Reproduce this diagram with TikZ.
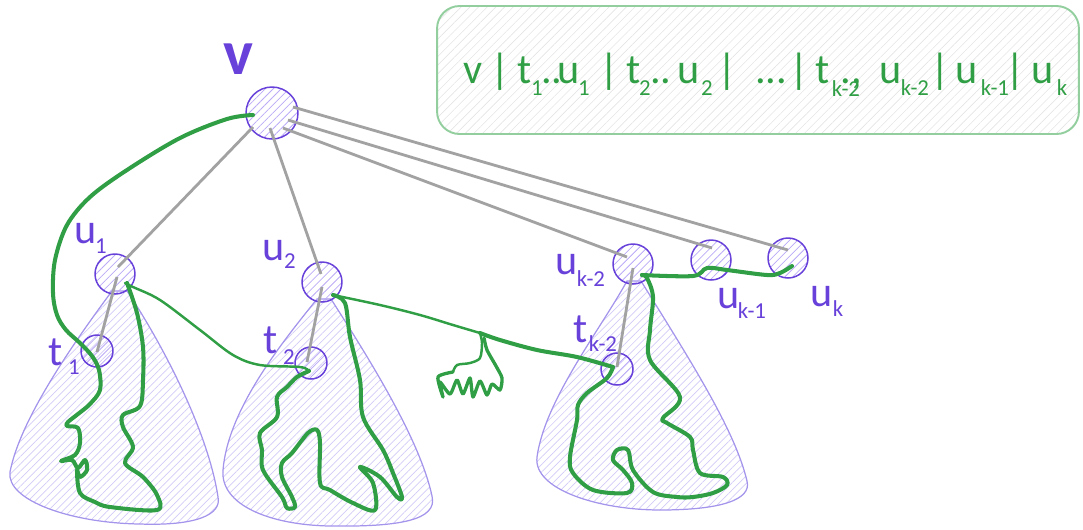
\documentclass[tikz,border=0pt]{standalone}
\usepackage{fontspec}
\setmainfont{Carlito}
\usetikzlibrary{patterns.meta}

\definecolor{vio}{HTML}{6741D9}
\definecolor{vhatch}{HTML}{BBAAF6}
\definecolor{conev}{HTML}{A494EB}
\definecolor{conehatch}{HTML}{D3CAF7}
\definecolor{grn}{HTML}{2F9E44}
\definecolor{edgegray}{HTML}{A2A2A2}
\definecolor{boxgreen}{HTML}{93CF9E}
\definecolor{boxhatch}{HTML}{E4E4E4}

\tikzset{
  vert/.style={circle, draw=vio, line width=0.85pt, inner sep=0pt,
    pattern={Lines[angle=45,distance=3.2pt,line width=0.45pt]}, pattern color=vhatch},
  rootv/.style={vert, minimum size=1.04cm},
  midv/.style={vert, minimum size=0.8cm},
  leafv/.style={vert, minimum size=0.64cm},
  cone/.style={draw=conev, line width=0.7pt,
    pattern={Lines[angle=45,distance=3pt,line width=0.4pt]}, pattern color=conehatch},
  edge/.style={draw=edgegray, line width=1.6pt},
  walk/.style={draw=grn, line width=2.3pt, line cap=round, line join=round},
  thinwalk/.style={walk, line width=1.4pt},
  lbl/.style={text=vio, font=\fontsize{24}{24}\selectfont, inner sep=0pt},
  sublbl/.style={text=vio, font=\fontsize{13}{13}\selectfont, inner sep=0pt},
  seqbox/.style={draw=boxgreen, line width=1.1pt, rounded corners=0.45cm,
    pattern={Lines[angle=45,distance=3.5pt,line width=0.35pt]}, pattern color=boxhatch},
  seqmain/.style={text=grn, font=\fontsize{24}{24}\selectfont, inner sep=0pt, anchor=base},
  seqsub/.style={text=grn, font=\fontsize{13}{13}\selectfont, inner sep=0pt, anchor=base},
}

\begin{document}
\begin{tikzpicture}[x=0.02cm, y=-0.02cm]
\useasboundingbox (0,0) rectangle (1083,529);

% sequence box: v | t1..u1 | t2..u2 | ... | t(k-2).. u(k-2) | u(k-1) | uk
\node[seqbox, minimum width=12.84cm, minimum height=2.56cm] (box) at (758,70) {};
\node[seqmain] (s01) at (473,83) {v};
\node[seqmain] (s02) at (500,83) {|};
\node[seqmain] (s03) at (525,83) {t};
\node[seqsub]  (s04) at (537,95) {1};
\node[seqmain] (s05) at (552,83) {..};
\node[seqmain] (s06) at (569,83) {u};
\node[seqsub]  (s07) at (584,95) {1};
\node[seqmain] (s08) at (609,83) {|};
\node[seqmain] (s09) at (634,83) {t};
\node[seqsub]  (s10) at (645,95) {2};
\node[seqmain] (s11) at (661,83) {..};
\node[seqmain] (s12) at (689,83) {u};
\node[seqsub]  (s13) at (707,95) {2};
\node[seqmain] (s14) at (727,83) {|};
\node[seqmain] (s15) at (771,83) {...};
\node[seqmain] (s16) at (799,83) {|};
\node[seqmain] (s17) at (823,83) {t};
\node[seqsub]  (s18) at (846,96) {k-2};
\node[seqmain] (s19) at (851,83) {.,};
\node[seqmain] (s20) at (891,83) {u};
\node[seqsub]  (s21) at (915,95) {k-2};
\node[seqmain] (s22) at (940,83) {|};
\node[seqmain] (s23) at (967,83) {u};
\node[seqsub]  (s24) at (995,95) {k-1};
\node[seqmain] (s25) at (1015,83) {|};
\node[seqmain] (s26) at (1043,83) {u};
\node[seqsub]  (s27) at (1062,95) {k};

% subtrees
\path[cone] (112,291) .. controls (72,345) and (20,420) .. (10,472)
  .. controls (6,500) and (70,523) .. (140,524)
  .. controls (195,526) and (222,515) .. (218,497)
  .. controls (208,430) and (160,340) .. (127,291) -- cycle;
\path[cone] (317,299) .. controls (280,345) and (228,410) .. (223,470)
  .. controls (220,505) and (270,525) .. (330,526)
  .. controls (400,527) and (438,520) .. (432,496)
  .. controls (420,440) and (370,360) .. (331,299) -- cycle;
\path[cone] (627,281) .. controls (600,330) and (545,400) .. (537,457)
  .. controls (533,490) and (600,510) .. (660,510)
  .. controls (720,510) and (752,500) .. (747,481)
  .. controls (735,430) and (690,360) .. (641,281) -- cycle;

% vertices
\node[rootv] (v) at (272,113) {};
\node[midv] (u1) at (115,274) {};
\node[leafv] (t1) at (97,351) {};
\node[midv] (u2) at (322,282) {};
\node[leafv] (t2) at (311,363) {};
\node[midv] (uk2) at (633,264) {};
\node[leafv] (tk2) at (617,369) {};
\node[midv] (uk1) at (711,260) {};
\node[midv] (uk) at (788,258) {};

% tree edges
\draw[edge] ([shift={(-19,14)}]v.center) -- ([shift={(3,-7)}]u1.center);
\draw[edge] ([shift={(-2,15)}]v.center) -- ([shift={(-1,-8)}]u2.center);
\draw[edge] ([shift={(11,15)}]v.center) -- ([shift={(-6,-7)}]uk2.center);
\draw[edge] ([shift={(16,7)}]v.center) -- ([shift={(1,-12)}]uk1.center);
\draw[edge] ([shift={(21,-6)}]v.center) -- ([shift={(0,-8)}]uk.center);
\draw[edge] ([shift={(2,3)}]u1.center) -- ([shift={(0,1)}]t1.center);
\draw[edge] ([shift={(0,5)}]u2.center) -- ([shift={(-4,-1)}]t2.center);
\draw[edge] ([shift={(0,4)}]uk2.center) -- ([shift={(0,-2)}]tk2.center);

% labels
\node[text=vio, font=\bfseries\fontsize{36}{36}\selectfont, inner sep=0pt] (lv) at (238,59) {v};
\node[lbl] (lu1) at (86,234) {u};      \node[sublbl] (su1) at (101,246) {1};
\node[lbl] (lt1) at (56,352) {t};      \node[sublbl] (st1) at (74,367) {1};
\node[lbl] (lu2) at (274,251) {u};     \node[sublbl] (su2) at (290,261) {2};
\node[lbl] (lt2) at (271,340) {t};     \node[sublbl] (st2) at (289,357) {2};
\node[lbl] (luk2) at (567,265) {u};    \node[sublbl] (suk2) at (591,279) {k-2};
\node[lbl] (ltk2) at (581,329) {t};    \node[sublbl] (stk2) at (603,344) {k-2};
\node[lbl] (luk1) at (729,299) {u};    \node[sublbl] (suk1) at (752,311) {k-1};
\node[lbl] (luk) at (822,297) {u};     \node[sublbl] (suk) at (838,309) {k};

% traversal walk
\draw[walk] plot[smooth, tension=0.55] coordinates {
  (253,115) (227,119) (180,138) (127,170) (90,197) (67,225) (55,260) (53,293)
  (57,315) (66,330) (80,343) (92,356) (99,370) (100,390) (90,404) (78,414)
  (68,422) (67,426) (78,428) (80,443) (75,455) (61,461) (72,460) (78,468)
  (85,460) (87,470) (80,477) (77,470) (80,493) (95,502) (110,507) (157,510)
  (157,495) (143,477) (125,463) (133,447) (123,427) (123,415) (140,406)
  (143,380) (143,347) (137,313) (127,283)};
\draw[thinwalk] plot[smooth, tension=0.55] coordinates {
  (125,283) (133,287) (160,300) (200,330) (233,355) (260,365) (300,367) (309,371)};
\draw[walk] plot[smooth, tension=0.55] coordinates {
  (309,371) (297,377) (287,387) (277,397) (277,417) (260,433) (262,450)
  (263,470) (282,497) (287,508) (295,507) (292,497) (282,477) (282,463)
  (292,453) (308,433) (317,430) (320,443) (320,483) (330,490) (353,503)
  (375,510) (373,483) (360,467) (380,477) (397,497) (402,497) (393,473)
  (383,450) (363,417) (360,380) (350,337) (345,303) (333,295)};
\draw[thinwalk] plot[smooth, tension=0.55] coordinates {
  (333,295) (380,305) (420,315) (453,325) (480,333)};
\draw[walk] plot[smooth, tension=0.55] coordinates {
  (480,333) (500,340) (537,350) (577,357) (613,367)};
\draw[thinwalk] plot[smooth, tension=0.5] coordinates {
  (480,333) (482,343) (480,358) (470,363) (457,365) (453,372)};
\draw[walk, line width=1.9pt] plot[smooth, tension=0.4] coordinates {
  (453,372) (438,377) (443,397) (440,382) (450,394) (457,380) (463,394)
  (470,378) (473,397) (480,381) (487,395) (492,384) (500,390) (502,378)
  (496,366) (487,350) (484,338)};
\draw[walk] plot[smooth, tension=0.55] coordinates {
  (613,367) (607,378) (587,393) (578,405) (577,420) (570,457) (573,473)
  (593,490) (627,493) (632,483) (623,470) (613,460) (617,450) (628,450)
  (633,470) (653,492) (677,497) (693,497) (713,493) (727,485) (723,477)
  (700,473) (693,450) (690,437) (667,423) (663,418) (680,397) (650,360)
  (650,330) (653,297) (647,278) (642,275)};
\draw[walk] plot[smooth, tension=0.55] coordinates {
  (642,275) (693,276) (707,268) (727,270) (767,275) (780,273) (792,266)};
\end{tikzpicture}
\end{document}
